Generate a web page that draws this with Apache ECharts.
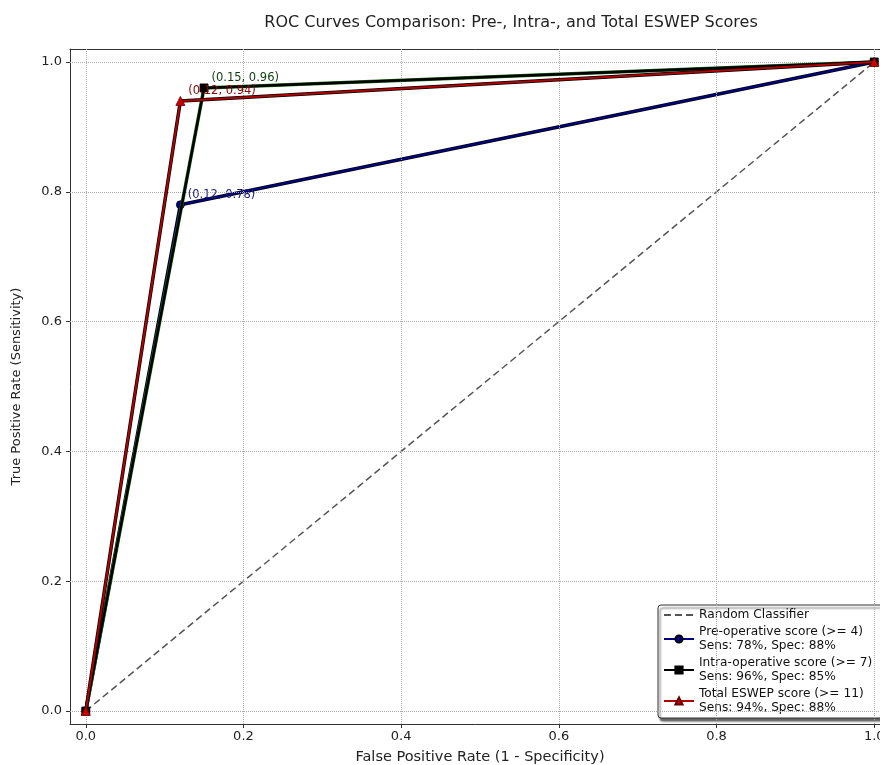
<!DOCTYPE html>
<html><head><meta charset="utf-8">
<script src="https://cdn.jsdelivr.net/npm/echarts@6/dist/echarts.min.js"></script>
<style>html,body{margin:0;padding:0;background:#fff}#c{width:880px;height:765px}</style>
</head><body><div id="c"></div>
<script>
const randomLine = [[0, 0], [1, 1]];
const preData = [[0, 0], [0.12, 0.78], [1, 1]];
const intraData = [[0, 0], [0.15, 0.96], [1, 1]];
const totalData = [[0, 0], [0.12, 0.94], [1, 1]];
const preLabel = '(0.12, 0.78)';
const intraLabel = '(0.15, 0.96)';
const totalLabel = '(0.12, 0.94)';
const names = {
  random: 'Random Classifier',
  pre: 'Pre-operative score (>= 4)\nSens: 78%, Spec: 88%',
  intra: 'Intra-operative score (>= 7)\nSens: 96%, Spec: 85%',
  total: 'Total ESWEP score (>= 11)\nSens: 94%, Spec: 88%'
};
const xTicks = [0, 0.2, 0.4, 0.6, 0.8, 1.0];
const yTicks = [0, 0.2, 0.4, 0.6, 0.8, 1.0];

const FONT = '"DejaVu Sans", sans-serif';
function withLabel(data, idx, text, color) {
  return data.map((d, i) => i === idx ? {
    value: d,
    label: { show: true, position: 'right', distance: 3, offset: [0, -10], formatter: text, color: color, fontSize: 11.5, fontFamily: FONT }
  } : d);
}
const chart = echarts.init(document.getElementById('c'));
chart.setOption({
  animation: false,
  backgroundColor: '#fff',
  title: { text: 'ROC Curves Comparison: Pre-, Intra-, and Total ESWEP Scores', left: 506, textAlign: 'center', top: 10,
    textStyle: { fontSize: 16, fontWeight: 'normal', color: '#222', fontFamily: FONT } },
  grid: { left: 70, top: 49, width: 820, height: 675, show: false, outerBoundsMode: 'none', containLabel: false },
  xAxis: [{ type: 'value', min: -0.02, max: 1.02,
    name: 'False Positive Rate (1 - Specificity)', nameLocation: 'middle', nameGap: 26,
    nameTextStyle: { fontSize: 14.5, color: '#222', fontFamily: FONT },
    axisLine: { show: true, onZero: false, lineStyle: { color: '#333' } },
    axisTick: { show: true, customValues: xTicks, length: 4, lineStyle: { color: '#333' } },
    axisLabel: { customValues: xTicks, formatter: v => v.toFixed(1), fontSize: 13, color: '#222', margin: 6, fontFamily: FONT },
    splitLine: { show: false } },
    { type: 'value', position: 'top', min: -0.02, max: 1.02,
    axisLine: { show: true, onZero: false, lineStyle: { color: '#333' } },
    axisTick: { show: false }, axisLabel: { show: false }, splitLine: { show: false } }],
  yAxis: { type: 'value', min: -0.02, max: 1.02,
    name: 'True Positive Rate (Sensitivity)', nameLocation: 'middle', nameGap: 47,
    nameTextStyle: { fontSize: 13, color: '#222', fontFamily: FONT },
    axisLine: { show: true, onZero: false, lineStyle: { color: '#333' } },
    axisTick: { show: true, customValues: yTicks, length: 4, lineStyle: { color: '#333' } },
    axisLabel: { customValues: yTicks, formatter: v => v.toFixed(1), fontSize: 13, color: '#222', margin: 8, fontFamily: FONT },
    splitLine: { show: false } },
  legend: {
    orient: 'vertical', left: 658, top: 605, width: 240,
    data: [{ name: names.random, itemStyle: { opacity: 0 } }, names.pre, names.intra, names.total],
    backgroundColor: '#fff', borderColor: '#333', borderWidth: 1, borderRadius: 3,
    padding: [3, 30, 3, 5], itemGap: 3, itemWidth: 30, itemHeight: 9,
    shadowColor: 'rgba(0,0,0,0.6)', shadowOffsetX: 2, shadowOffsetY: 3, shadowBlur: 2,
    textStyle: { fontSize: 12.2, lineHeight: 14, color: '#111', fontFamily: FONT }
  },
  series: [
    { type: 'line', name: 'gridx', silent: true, symbol: 'none', z: 0,
      data: [], markLine: { silent: true, symbol: 'none', label: { show: false },
        lineStyle: { color: '#aaa', type: 'dotted', width: 1 },
        data: xTicks.map(v => ({ xAxis: v })).concat(yTicks.map(v => ({ yAxis: v }))) } },
    { type: 'line', name: names.random, data: randomLine, symbol: 'none',
      lineStyle: { color: '#555', type: [7, 4], width: 1.5 }, itemStyle: { color: '#555' }, z: 2 },
    { type: 'line', name: 'preUnder', data: preData, symbol: 'none', silent: true,
      lineStyle: { color: '#000', width: 3.5 }, z: 3 },
    { type: 'line', name: names.pre, data: withLabel(preData, 1, preLabel, '#1a1a80'), symbol: 'circle', symbolSize: 8,
      lineStyle: { color: '#000080', width: 2 }, itemStyle: { color: '#000080', borderColor: '#000', borderWidth: 0.8 }, z: 4 },
    { type: 'line', name: 'intraUnder', data: intraData, symbol: 'none', silent: true,
      lineStyle: { color: '#1a6b1a', width: 3.5 }, z: 5 },
    { type: 'line', name: names.intra, data: withLabel(intraData, 1, intraLabel, '#0d3d0d'), symbol: 'rect', symbolSize: 8,
      lineStyle: { color: '#000', width: 2.4 }, itemStyle: { color: '#000', borderColor: '#000', borderWidth: 0.8 }, z: 6 },
    { type: 'line', name: 'totalUnder', data: totalData, symbol: 'none', silent: true,
      lineStyle: { color: '#000', width: 3.5 }, z: 7 },
    { type: 'line', name: names.total, data: withLabel(totalData, 1, totalLabel, '#8b0000'), symbol: 'triangle', symbolSize: 9,
      lineStyle: { color: '#b00000', width: 2 }, itemStyle: { color: '#cc0000', borderColor: '#600', borderWidth: 0.8 }, z: 8 }
  ]
});
</script></body></html>
